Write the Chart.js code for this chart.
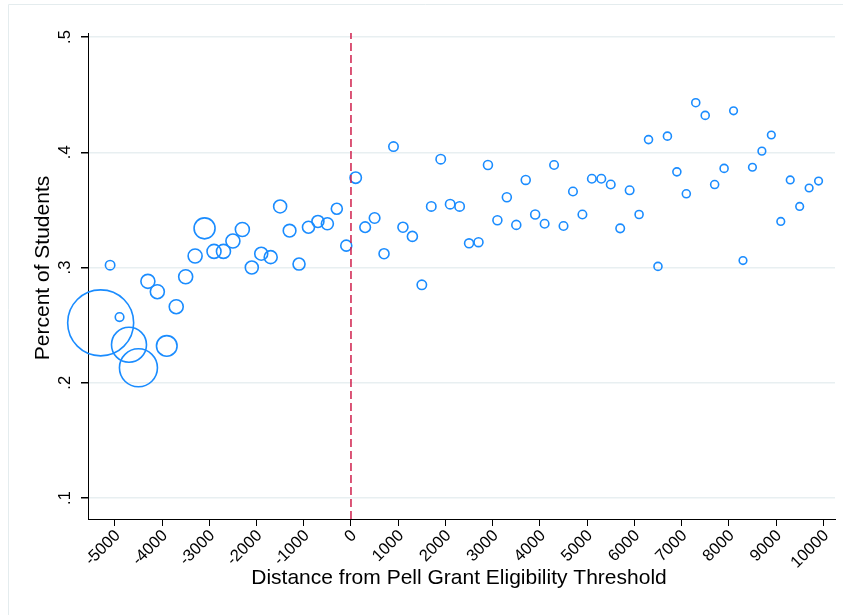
<!DOCTYPE html>
<html>
<head>
<meta charset="utf-8">
<script src="https://cdn.jsdelivr.net/npm/chart.js@4.4.0/dist/chart.umd.min.js"></script>
<style>
html, body { margin: 0; padding: 0; background: #fff; }
</style>
</head>
<body>
<canvas id="grafico" width="843" height="615"></canvas>
<script>
// Datos: centro de cada intervalo, porcentaje y numero de estudiantes (tamano de la burbuja)
const distance = [-5300, -5100, -4900, -4700, -4500, -4300, -4100, -3900, -3700, -3500,
  -3300, -3100, -2900, -2700, -2500, -2300, -2100, -1900, -1700, -1500,
  -1300, -1100, -900, -700, -500, -300, -100, 100, 300, 500,
  700, 900, 1100, 1300, 1500, 1700, 1900, 2100, 2300, 2500,
  2700, 2900, 3100, 3300, 3500, 3700, 3900, 4100, 4300, 4500,
  4700, 4900, 5100, 5300, 5500, 5700, 5900, 6100, 6300, 6500,
  6700, 6900, 7100, 7300, 7500, 7700, 7900, 8100, 8300, 8500,
  8700, 8900, 9100, 9300, 9500, 9700, 9900];
const share = [0.252, 0.302, 0.257, 0.233, 0.213, 0.288, 0.279, 0.232, 0.266, 0.292,
  0.310, 0.334, 0.314, 0.314, 0.323, 0.333, 0.300, 0.312, 0.309, 0.353,
  0.332, 0.303, 0.335, 0.340, 0.338, 0.351, 0.319, 0.378, 0.335, 0.343,
  0.312, 0.405, 0.335, 0.327, 0.285, 0.353, 0.394, 0.355, 0.353, 0.321,
  0.322, 0.389, 0.341, 0.361, 0.337, 0.376, 0.346, 0.338, 0.389, 0.336,
  0.366, 0.346, 0.377, 0.377, 0.372, 0.334, 0.367, 0.346, 0.411, 0.301,
  0.414, 0.383, 0.364, 0.443, 0.432, 0.372, 0.386, 0.436, 0.306, 0.387,
  0.401, 0.415, 0.340, 0.376, 0.353, 0.369, 0.375];
const students = [4356, 88, 74, 1225, 1444, 196, 196, 424, 196, 196,
  196, 441, 196, 196, 196, 196, 169, 169, 169, 169,
  160, 144, 144, 144, 144, 121, 121, 130, 112, 112,
  100, 88, 100, 100, 88, 88, 88, 88, 88, 80,
  80, 80, 80, 80, 80, 80, 80, 72, 72, 72,
  72, 72, 72, 72, 72, 72, 72, 64, 64, 64,
  64, 64, 64, 64, 64, 64, 64, 58, 58, 58,
  58, 58, 58, 58, 58, 58, 58];
const xTicks = [-5000, -4000, -3000, -2000, -1000, 0, 1000, 2000, 3000, 4000,
  5000, 6000, 7000, 8000, 9000, 10000];
const yTicks = [0.1, 0.2, 0.3, 0.4, 0.5];
const yTickLabels = ['.1', '.2', '.3', '.4', '.5'];
const threshold = 0;

const xMin = -5568, xMax = 10248;
const yMin = 0.0818, yMax = 0.5035;

const FONT = '"Liberation Sans", Arial, Helvetica, sans-serif';

// Marco, etiquetas del eje y y titulos de ejes
const stataFrame = {
    id: 'stataFrame',
    beforeDraw(chart) {
        const ctx = chart.ctx;
        ctx.save();
        ctx.fillStyle = '#fff';
        ctx.fillRect(0, 0, chart.width, chart.height);
        ctx.strokeStyle = '#e4ecee';
        ctx.lineWidth = 1;
        ctx.beginPath();
        ctx.moveTo(8.5, chart.height);
        ctx.lineTo(8.5, 4.5);
        ctx.lineTo(chart.width, 4.5);
        ctx.stroke();
        ctx.restore();
    },
    afterDraw(chart) {
        const ctx = chart.ctx;
        const y = chart.scales.y;
        ctx.save();
        ctx.fillStyle = '#000';
        ctx.textAlign = 'center';
        ctx.textBaseline = 'middle';
        ctx.font = '16.5px ' + FONT;
        yTicks.forEach(function(v, i) {
            ctx.save();
            ctx.translate(y.right - 23, y.getPixelForValue(v));
            ctx.rotate(-Math.PI / 2);
            ctx.fillText(yTickLabels[i], 0, 0);
            ctx.restore();
        });
        ctx.font = '21px ' + FONT;
        ctx.save();
        ctx.translate(43, 268);
        ctx.rotate(-Math.PI / 2);
        ctx.fillText('Percent of Students', 0, 0);
        ctx.restore();
        ctx.fillText('Distance from Pell Grant Eligibility Threshold', 459, 578);
        ctx.restore();
    }
};

const ctx = document.getElementById('grafico').getContext('2d');
new Chart(ctx, {
    type: 'bubble',
    data: {
        datasets: [{
            type: 'line',
            data: [{ x: threshold, y: yMin }, { x: threshold, y: yMax }],
            borderColor: '#d01f4c',
            borderWidth: 1.5,
            borderDash: [8, 4],
            pointRadius: 0,
            fill: false
        }, {
            data: distance.map(function(d, i) {
                return { x: d, y: share[i], r: Math.sqrt(students[i]) / 2 };
            }),
            borderColor: '#1a8cff',
            backgroundColor: 'rgba(0,0,0,0)',
            borderWidth: 1.6,
            hoverRadius: 0,
            clip: false
        }]
    },
    options: {
        responsive: false,
        animation: false,
        events: [],
        layout: { autoPadding: false, padding: { left: 0, right: 8, top: 33, bottom: 0 } },
        plugins: { legend: { display: false }, tooltip: { enabled: false } },
        scales: {
            x: {
                type: 'linear',
                min: xMin,
                max: xMax,
                afterFit: function(s) { s.height = 96; s.paddingLeft = 0; s.paddingRight = 0; },
                afterBuildTicks: function(s) { s.ticks = xTicks.map(function(v) { return { value: v }; }); },
                border: { color: '#000', width: 1 },
                grid: { drawOnChartArea: false, tickLength: 7, tickColor: '#000' },
                ticks: {
                    color: '#000',
                    font: { family: FONT, size: 16.5 },
                    minRotation: 45,
                    maxRotation: 45,
                    padding: 0,
                    labelOffset: 3,
                    autoSkip: false,
                    callback: function(v) { return String(v); }
                }
            },
            y: {
                type: 'linear',
                min: yMin,
                max: yMax,
                afterFit: function(s) { s.width = 88; s.paddingTop = 0; s.paddingBottom = 0; },
                afterBuildTicks: function(s) { s.ticks = yTicks.map(function(v) { return { value: v }; }); },
                border: { color: '#000', width: 1 },
                grid: { color: '#e8eff1', lineWidth: 1.5, tickLength: 7, tickColor: '#000' },
                ticks: { display: false }
            }
        }
    },
    plugins: [stataFrame]
});
</script>
</body>
</html>
